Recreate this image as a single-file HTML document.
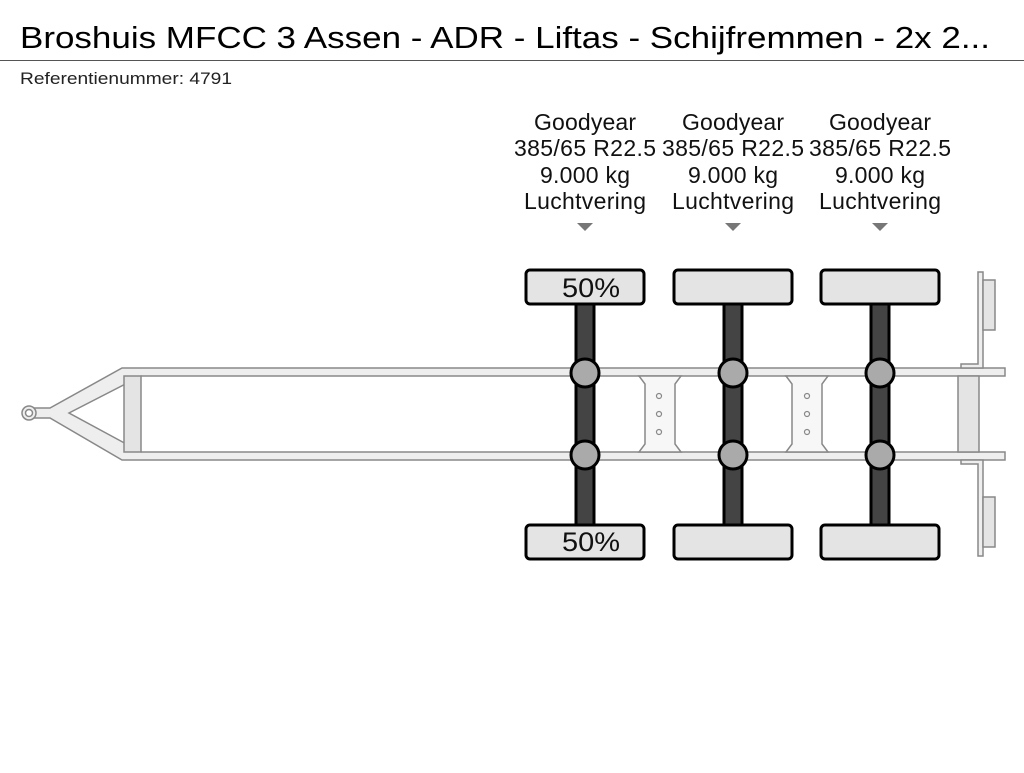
<!DOCTYPE html>
<html><head><meta charset="utf-8"><style>
body{margin:0;background:#fff;width:1024px;height:768px;overflow:hidden;font-family:"Liberation Sans",sans-serif}
</style></head><body>
<svg width="1024" height="768" xmlns="http://www.w3.org/2000/svg" font-family="Liberation Sans, sans-serif">
<text x="20" y="48" font-size="31" fill="#000" textLength="970" lengthAdjust="spacingAndGlyphs">Broshuis MFCC 3 Assen - ADR - Liftas - Schijfremmen - 2x 2...</text>
<line x1="0" y1="60.5" x2="1024" y2="60.5" stroke="#555" stroke-width="1"/>
<text x="20" y="84" font-size="17" fill="#222" textLength="212" lengthAdjust="spacingAndGlyphs">Referentienummer: 4791</text>
<g font-size="23" text-anchor="middle" fill="#111" lengthAdjust="spacingAndGlyphs">
<text x="585" y="130" textLength="102">Goodyear</text><text x="585" y="156" textLength="142">385/65 R22.5</text><text x="585" y="183" textLength="90">9.000 kg</text><text x="585" y="209" textLength="122">Luchtvering</text>
<text x="733" y="130" textLength="102">Goodyear</text><text x="733" y="156" textLength="142">385/65 R22.5</text><text x="733" y="183" textLength="90">9.000 kg</text><text x="733" y="209" textLength="122">Luchtvering</text>
<text x="880" y="130" textLength="102">Goodyear</text><text x="880" y="156" textLength="142">385/65 R22.5</text><text x="880" y="183" textLength="90">9.000 kg</text><text x="880" y="209" textLength="122">Luchtvering</text>
</g>
<g fill="#777"><path d="M577 223h16l-8 8z"/><path d="M725 223h16l-8 8z"/><path d="M872 223h16l-8 8z"/></g>
<g stroke="#888" stroke-width="1.5" fill="#eee">
<path d="M28 408 L50 408 L122 368 L1005 368 L1005 376 L141 376 L69 413 L141 452 L1005 452 L1005 460 L122 460 L50 418 L28 418 Z"/>
<circle cx="29" cy="413" r="7" fill="#eee"/><circle cx="29" cy="413" r="3.5" fill="#fff"/>
<rect x="124" y="376" width="17" height="76" fill="#e4e4e4"/>
<path d="M638 376h4l-3 0 6 8v60l-6 8h42l-6-8v-60l6-8z" fill="#f7f7f7"/>
<path d="M785 376h4l-3 0 6 8v60l-6 8h42l-6-8v-60l6-8z" fill="#f7f7f7"/>
<rect x="958" y="376" width="21" height="76" fill="#e4e4e4"/>
<path d="M961 364h17v-92h5v96h-22z" fill="#eee"/>
<path d="M961 464h17v92h5v-96h-22z" fill="#eee"/>
<rect x="983" y="280" width="12" height="50" fill="#e4e4e4"/>
<rect x="983" y="497" width="12" height="50" fill="#e4e4e4"/>
</g>
<g fill="none" stroke="#888" stroke-width="1.2">
<circle cx="659" cy="396" r="2.5"/><circle cx="659" cy="414" r="2.5"/><circle cx="659" cy="432" r="2.5"/>
<circle cx="807" cy="396" r="2.5"/><circle cx="807" cy="414" r="2.5"/><circle cx="807" cy="432" r="2.5"/>
</g>
<g stroke="#000" stroke-width="3">
<rect x="576" y="303" width="18" height="223" fill="#444"/>
<rect x="724" y="303" width="18" height="223" fill="#444"/>
<rect x="871" y="303" width="18" height="223" fill="#444"/>
<rect x="526" y="270" width="118" height="34" rx="4" fill="#e4e4e4"/>
<rect x="674" y="270" width="118" height="34" rx="4" fill="#e4e4e4"/>
<rect x="821" y="270" width="118" height="34" rx="4" fill="#e4e4e4"/>
<rect x="526" y="525" width="118" height="34" rx="4" fill="#e4e4e4"/>
<rect x="674" y="525" width="118" height="34" rx="4" fill="#e4e4e4"/>
<rect x="821" y="525" width="118" height="34" rx="4" fill="#e4e4e4"/>
<g fill="#aaa">
<circle cx="585" cy="373" r="14"/><circle cx="585" cy="455" r="14"/>
<circle cx="733" cy="373" r="14"/><circle cx="733" cy="455" r="14"/>
<circle cx="880" cy="373" r="14"/><circle cx="880" cy="455" r="14"/>
</g>
</g>
<g font-size="27" text-anchor="middle" fill="#111">
<text x="591" y="297" textLength="58" lengthAdjust="spacingAndGlyphs">50%</text><text x="591" y="551" textLength="58" lengthAdjust="spacingAndGlyphs">50%</text>
</g>
</svg>
</body></html>
